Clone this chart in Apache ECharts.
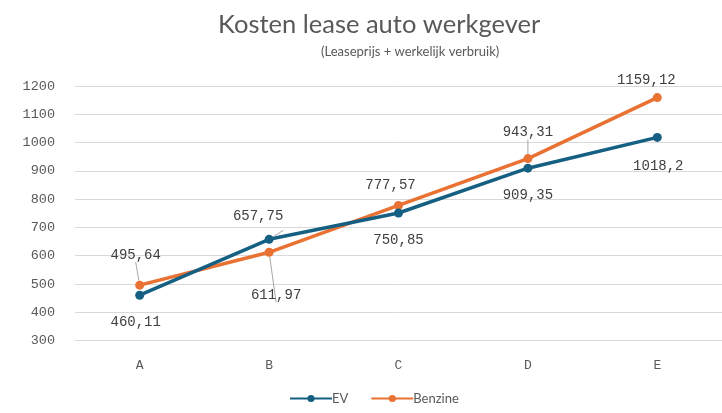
<!DOCTYPE html>
<html><head><meta charset="utf-8">
<script src="https://cdn.jsdelivr.net/npm/echarts@6/dist/echarts.min.js"></script>
<style>html,body{margin:0;padding:0;background:#fff}#c{width:722px;height:413px}</style>
</head><body><div id="c"></div>
<script>
const categories = ['A', 'B', 'C', 'D', 'E'];
const evValues = [460.11, 657.75, 750.85, 909.35, 1018.2];
const benzineValues = [495.64, 611.97, 777.57, 943.31, 1159.12];
const yTicks = [300, 1200, 100];

// label offsets (dx, dy) relative to point centre
const evLabelOffsets = [[-4, 27], [-11, -23], [0, 27], [0, 27], [1, 29]];
const bzLabelOffsets = [[-4, -30], [7, 43], [-8, -20], [0, -26], [-11, -17]];
const evLeader = [false, true, false, false, false];
const bzLeader = [true, true, false, true, false];

const fmt = v => String(v).replace('.', ',');
const font = '"Liberation Mono", "DejaVu Sans Mono", monospace';

function mk(values, offs, leaders) {
  return values.map((v, i) => ({
    value: v,
    label: { offset: offs[i] },
    labelLine: { show: leaders[i] }
  }));
}

const chart = echarts.init(document.getElementById('c'), null, {renderer: 'canvas'});
chart.setOption({
  animation: false,
  title: [
    { text: 'Kosten lease auto werkgever', left: 213, top: 7,
      textStyle: { fontFamily: 'Lato', fontSize: 25.5, fontWeight: 'normal', color: '#595959' } },
    { text: '(Leaseprijs + werkelijk verbruik)', left: 316, top: 40,
      textStyle: { fontFamily: 'Lato', fontSize: 13, fontWeight: 'normal', color: '#595959' } }
  ],
  legend: {
    bottom: 3, left: 284, itemWidth: 42, itemHeight: 9, itemGap: 22,
    textStyle: { fontFamily: 'Lato', fontSize: 13, color: '#595959', padding: [0, 0, 0, -5] },
    data: ['EV', 'Benzine']
  },
  grid: { left: 75, top: 86, width: 654, height: 254.5 },
  xAxis: {
    type: 'category', data: categories, boundaryGap: true,
    axisLine: { show: false }, axisTick: { show: false },
    axisLabel: { fontFamily: font, fontSize: 13, color: '#595959', margin: 19 }
  },
  yAxis: {
    type: 'value', min: yTicks[0], max: yTicks[1], interval: yTicks[2],
    axisLine: { show: false }, axisTick: { show: false },
    splitLine: { lineStyle: { color: '#d9d9d9', width: 1 } },
    axisLabel: { fontFamily: font, fontSize: 13.5, color: '#595959', margin: 20,
                 formatter: v => String(v) }
  },
  series: [
    { name: 'EV', type: 'line', data: mk(evValues, evLabelOffsets, evLeader),
      color: '#156082', symbol: 'circle', symbolSize: 9,
      lineStyle: { width: 3.5, color: '#156082' },
      itemStyle: { color: '#156082' },
      label: { show: true, position: 'inside', fontFamily: font, fontSize: 14, color: '#404040',
               formatter: p => fmt(p.value) },
      labelLine: { lineStyle: { color: '#a6a6a6', width: 1 } },
      z: 3
    },
    { name: 'Benzine', type: 'line', data: mk(benzineValues, bzLabelOffsets, bzLeader),
      color: '#E97132', symbol: 'circle', symbolSize: 9,
      lineStyle: { width: 3.5, color: '#E97132' },
      itemStyle: { color: '#E97132' },
      label: { show: true, position: 'inside', fontFamily: font, fontSize: 14, color: '#404040',
               formatter: p => fmt(p.value) },
      labelLine: { lineStyle: { color: '#a6a6a6', width: 1 } },
      z: 2
    }
  ]
});
</script></body></html>
